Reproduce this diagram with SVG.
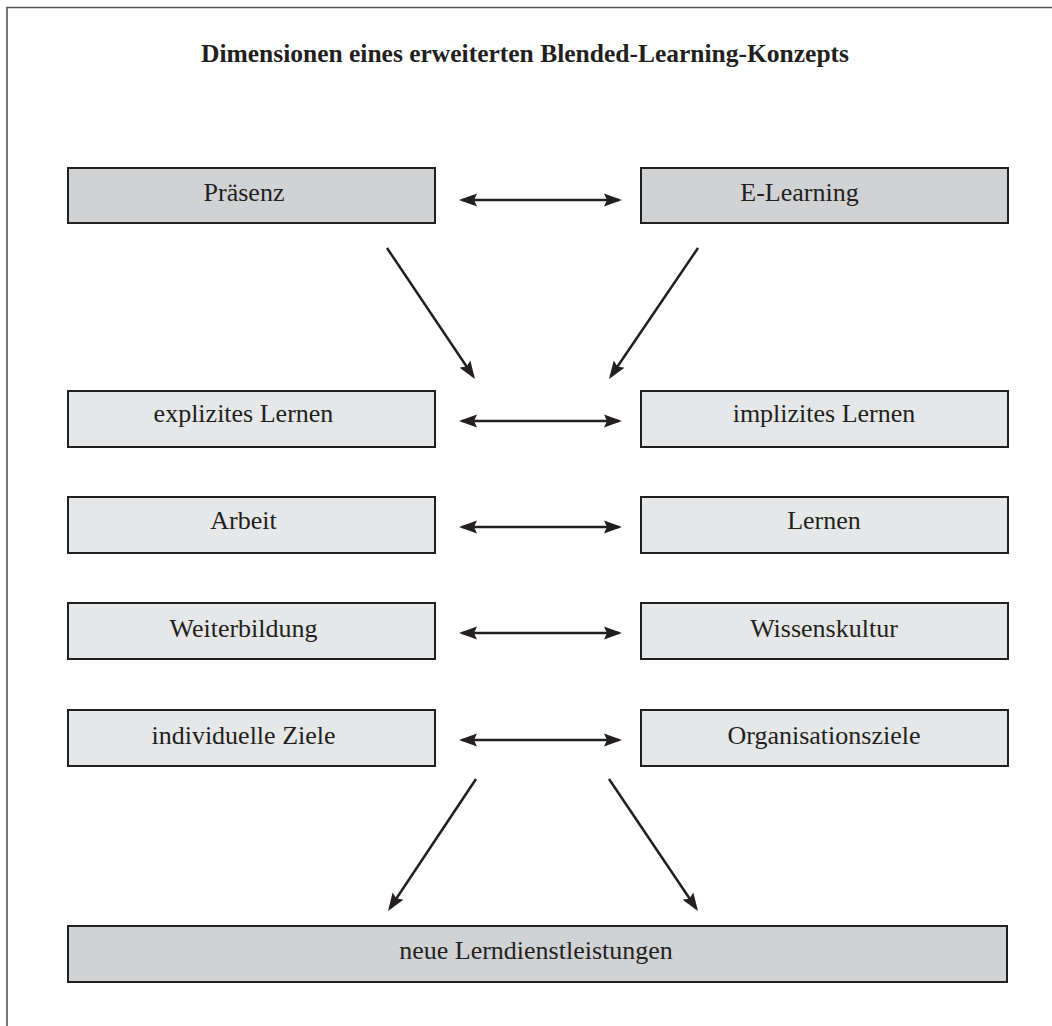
<svg xmlns="http://www.w3.org/2000/svg" width="1052" height="1026" viewBox="0 0 1052 1026">
<style>
.frame{fill:none;stroke:#555;stroke-width:1.6}
.dark{fill:#d1d2d4;stroke:#231f20;stroke-width:2}
.light{fill:#e6e7e8;stroke:#231f20;stroke-width:2}
.lbl{font-family:"Liberation Serif","Times New Roman",serif;font-size:26px;fill:#231f20;text-anchor:middle}
.title{font-family:"Liberation Serif","Times New Roman",serif;font-size:25.5px;font-weight:bold;fill:#231f20;text-anchor:middle}
.conn{stroke:#231f20;stroke-width:2.5;fill:none}
</style>
<defs>
<marker id="ah" markerUnits="userSpaceOnUse" viewBox="0 -7 18 14" refX="15" refY="0" markerWidth="18" markerHeight="14" orient="auto-start-reverse">
<path d="M0,-6.5 L18,0 L0,6.5 L3,0 Z" fill="#231f20"/>
</marker>
</defs>
<rect width="1052" height="1026" fill="#fff"/>
<path class="frame" d="M7,1026 V7.5 H1052"/>
<text class="title" x="525" y="62">Dimensionen eines erweiterten Blended-Learning-Konzepts</text>
<g id="praesenz"><rect class="dark" x="68" y="168" width="367" height="55"/><text class="lbl" x="244" y="201">Präsenz</text></g>
<g id="elearning"><rect class="dark" x="641" y="168" width="367" height="55"/><text class="lbl" x="799.5" y="201">E-Learning</text></g>
<g id="explizit"><rect class="light" x="68" y="391" width="367" height="56"/><text class="lbl" x="243.5" y="422">explizites Lernen</text></g>
<g id="implizit"><rect class="light" x="641" y="391" width="367" height="56"/><text class="lbl" x="824" y="422">implizites Lernen</text></g>
<g id="arbeit"><rect class="light" x="68" y="497" width="367" height="56"/><text class="lbl" x="243.5" y="529">Arbeit</text></g>
<g id="lernen"><rect class="light" x="641" y="497" width="367" height="56"/><text class="lbl" x="824" y="529">Lernen</text></g>
<g id="weiterbildung"><rect class="light" x="68" y="603" width="367" height="56"/><text class="lbl" x="243.5" y="637">Weiterbildung</text></g>
<g id="wissenskultur"><rect class="light" x="641" y="603" width="367" height="56"/><text class="lbl" x="824" y="637">Wissenskultur</text></g>
<g id="individuell"><rect class="light" x="68" y="710" width="367" height="56"/><text class="lbl" x="243.5" y="744">individuelle Ziele</text></g>
<g id="organisation"><rect class="light" x="641" y="710" width="367" height="56"/><text class="lbl" x="824" y="744">Organisationsziele</text></g>
<g id="lerndienst"><rect class="dark" x="68" y="926" width="939" height="56"/><text class="lbl" x="536" y="959">neue Lerndienstleistungen</text></g>
<g id="connectors">
<line class="conn" x1="462" y1="200" x2="619" y2="200" marker-start="url(#ah)" marker-end="url(#ah)"/>
<line class="conn" x1="462" y1="421" x2="619" y2="421" marker-start="url(#ah)" marker-end="url(#ah)"/>
<line class="conn" x1="462" y1="527" x2="619" y2="527" marker-start="url(#ah)" marker-end="url(#ah)"/>
<line class="conn" x1="462" y1="633" x2="619" y2="633" marker-start="url(#ah)" marker-end="url(#ah)"/>
<line class="conn" x1="462" y1="740" x2="619" y2="740" marker-start="url(#ah)" marker-end="url(#ah)"/>
<line class="conn" x1="387" y1="248" x2="473.3" y2="376.5" marker-end="url(#ah)"/>
<line class="conn" x1="698" y1="248" x2="610.7" y2="376.5" marker-end="url(#ah)"/>
<line class="conn" x1="476" y1="779" x2="389.7" y2="908.5" marker-end="url(#ah)"/>
<line class="conn" x1="609" y1="779" x2="696.3" y2="908.5" marker-end="url(#ah)"/>
</g>
</svg>
